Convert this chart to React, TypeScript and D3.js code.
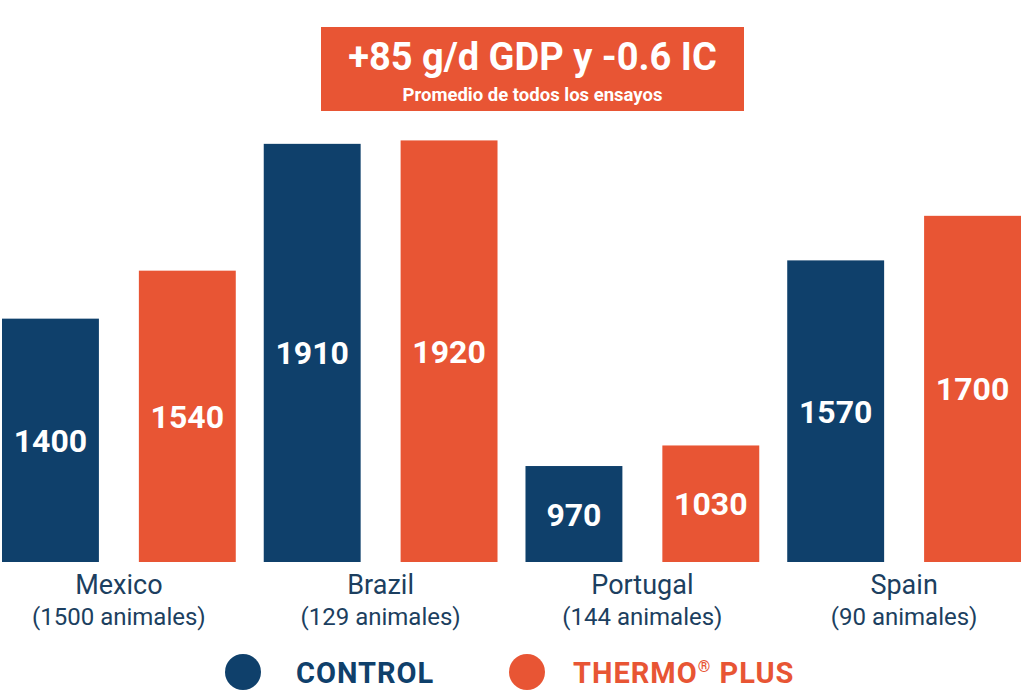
import React from "react";
import * as d3 from "d3";

const categories = ["Mexico", "Brazil", "Portugal", "Spain"];
const subLabels = ["(1500 animales)", "(129 animales)", "(144 animales)", "(90 animales)"];
const seriesNames = ["CONTROL", "THERMO PLUS"];
const controlValues = [1400, 1910, 970, 1570];
const thermoValues = [1540, 1920, 1030, 1700];
const colors = ["#0f406b", "#e85534"];
const title = "+85 g/d GDP y -0.6 IC";
const subtitle = "Promedio de todos los ensayos";

const W = 1024;
const H = 691;
const FONT = "Roboto, 'DejaVu Sans', sans-serif";

export default function App() {
  const x0 = d3.scaleBand<string>().domain(categories).range([2, 1021]).paddingInner(28 / 262).paddingOuter(0);
  const x1 = d3.scaleBand<string>().domain(seriesNames).range([0, x0.bandwidth()]).paddingInner(40 / 137).paddingOuter(0);
  const y = d3.scaleLinear().domain([690, 2000]).range([562, 113]);

  const data = categories.map((c, i) => ({ cat: c, sub: subLabels[i], vals: [controlValues[i], thermoValues[i]] }));

  return (
    <svg width={W} height={H} style={{ position: "absolute", left: 0, top: 0 }} fontFamily={FONT}>
      <rect x={0} y={0} width={W} height={H} fill="#fff" />
      {data.map((d) => (
        <g key={d.cat} transform={`translate(${x0(d.cat)},0)`}>
          {d.vals.map((v, j) => {
            const bx = x1(seriesNames[j])!;
            const top = y(v);
            const bottom = y(690);
            return (
              <g key={j}>
                <rect x={bx} y={top} width={x1.bandwidth()} height={bottom - top} fill={colors[j]} />
                <text
                  x={bx + x1.bandwidth() / 2}
                  y={(top + bottom) / 2}
                  dy="0.36em"
                  textAnchor="middle"
                  fill="#fff"
                  fontWeight={700}
                  fontSize={32}
                >
                  {v}
                </text>
              </g>
            );
          })}
          <text x={x0.bandwidth() / 2} y={594} textAnchor="middle" fill="#1c3f60" fontSize={27}>
            {d.cat}
          </text>
          <text x={x0.bandwidth() / 2} y={625} textAnchor="middle" fill="#1c3f60" fontSize={24}>
            {d.sub}
          </text>
        </g>
      ))}

      <rect x={321} y={27} width={423} height={84} fill={colors[1]} />
      <text x={532.5} y={70} textAnchor="middle" fill="#fff" fontWeight={700} fontSize={38}>
        {title}
      </text>
      <text x={532.5} y={101} textAnchor="middle" fill="#fff" fontWeight={700} fontSize={18.5}>
        {subtitle}
      </text>

      <circle cx={243} cy={672} r={18} fill={colors[0]} />
      <text x={296} y={683} fill={colors[0]} fontWeight={700} fontSize={29} letterSpacing={1}>
        {seriesNames[0]}
      </text>
      <circle cx={527} cy={672} r={18} fill={colors[1]} />
      <text x={573} y={683} fill={colors[1]} fontWeight={700} fontSize={29} letterSpacing={1}>
        THERMO<tspan fontSize={16} dy={-11}>®</tspan>
        <tspan dy={11}> PLUS</tspan>
      </text>
    </svg>
  );
}
